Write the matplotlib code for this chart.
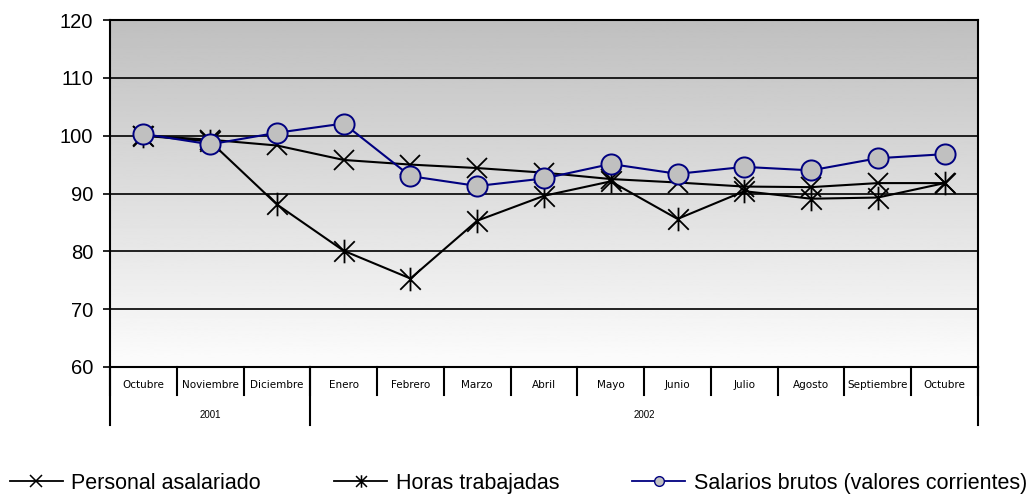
import numpy as np
import matplotlib.pyplot as plt
from matplotlib.path import Path
from matplotlib.lines import Line2D

plt.rcParams['font.family'] = ['Liberation Sans', 'DejaVu Sans']

# Data
meses = ["Octubre", "Noviembre", "Diciembre", "Enero", "Febrero", "Marzo", "Abril",
         "Mayo", "Junio", "Julio", "Agosto", "Septiembre", "Octubre"]
anios = ["2001", "2002"]
meses_por_anio = [3, 10]

personal = [100.0, 99.3, 98.3, 95.8, 95.0, 94.4, 93.6, 92.5, 91.9, 91.2, 91.1, 91.8, 91.8]
horas = [100.0, 99.0, 88.1, 80.1, 75.3, 85.3, 89.6, 92.1, 85.6, 90.4, 89.1, 89.3, 91.8]
salarios = [100.3, 98.5, 100.5, 102.1, 93.0, 91.3, 92.6, 95.1, 93.4, 94.6, 94.0, 96.1, 96.8]

# Excel-like asterisk marker: an X with a vertical bar
asterisco = Path(
    [(-1, -1), (1, 1), (-1, 1), (1, -1), (0, -1.15), (0, 1.15)],
    [Path.MOVETO, Path.LINETO, Path.MOVETO, Path.LINETO, Path.MOVETO, Path.LINETO])

fig = plt.figure(figsize=(10.3, 5), dpi=100)
ax = fig.add_axes([0.1068, 0.266, 0.8427, 0.694])

x = np.arange(len(meses))

# gradient background (grey on top, white at bottom)
grad = np.linspace(0.75, 0.99, 256).reshape(-1, 1)
ax.imshow(grad, cmap='gray', vmin=0, vmax=1, extent=[0, 1, 0, 1], transform=ax.transAxes,
          aspect='auto', zorder=0, origin='upper')

for yv in [70, 80, 90, 100, 110]:
    ax.axhline(yv, color='black', lw=1.2, zorder=1)

ax.plot(x, personal, color='black', lw=1.5, marker='x', ms=15, mew=1.3, zorder=3)
ax.plot(x, horas, color='black', lw=1.5, marker=asterisco, ms=17, mew=1.3, zorder=3)
ax.plot(x, salarios, color='#000080', lw=1.5, marker='o', ms=14.5, mfc='#c0c0c0',
        mec='#000080', mew=1.4, zorder=4)

ax.set_xlim(-0.5, len(meses) - 0.5)
ax.set_ylim(60, 120)
ax.set_yticks(range(60, 121, 10))
ax.tick_params(axis='y', labelsize=14.5, length=5, width=1.2, direction='out', pad=7)
ax.set_xticks([])
for s in ax.spines.values():
    s.set_linewidth(1.5)
    s.set_zorder(5)

# two-level category axis
trans = ax.get_xaxis_transform()
for i, m in enumerate(meses):
    ax.text(i, -0.052, m, transform=trans, ha='center', va='center', fontsize=7.5,
            family='DejaVu Sans')
for i in range(len(meses) + 1):
    ax.plot([i - 0.5, i - 0.5], [0, -0.081], transform=trans, color='black',
            lw=1.5, clip_on=False)
inicio = 0
for a, n in zip(anios, meses_por_anio):
    ax.text(inicio + n / 2 - 0.5, -0.138, a, transform=trans, ha='center',
            va='center', fontsize=7)
    ax.plot([inicio - 0.5, inicio - 0.5], [0, -0.167], transform=trans, color='black',
            lw=1.5, clip_on=False)
    inicio += n
ax.plot([inicio - 0.5, inicio - 0.5], [0, -0.167], transform=trans, color='black',
        lw=1.5, clip_on=False)

handles = [
    Line2D([], [], color='black', lw=1.3, marker='x', ms=8, mew=1.1),
    Line2D([], [], color='black', lw=1.3, marker=asterisco, ms=9, mew=1.1),
    Line2D([], [], color='#000080', lw=1.3, marker='o', ms=7, mfc='#c0c0c0', mec='#000080'),
]
etiquetas = ["Personal asalariado", "Horas trabajadas", "Salarios brutos (valores corrientes)"]
fig.legend(handles, etiquetas, loc='lower left', bbox_to_anchor=(10 / 1030, 6 / 500), ncol=3,
           frameon=False, fontsize=15.5, handlelength=2.45, handletextpad=0.4,
           columnspacing=3.4, borderpad=0, borderaxespad=0)

fig.savefig("out.png", dpi=100)
